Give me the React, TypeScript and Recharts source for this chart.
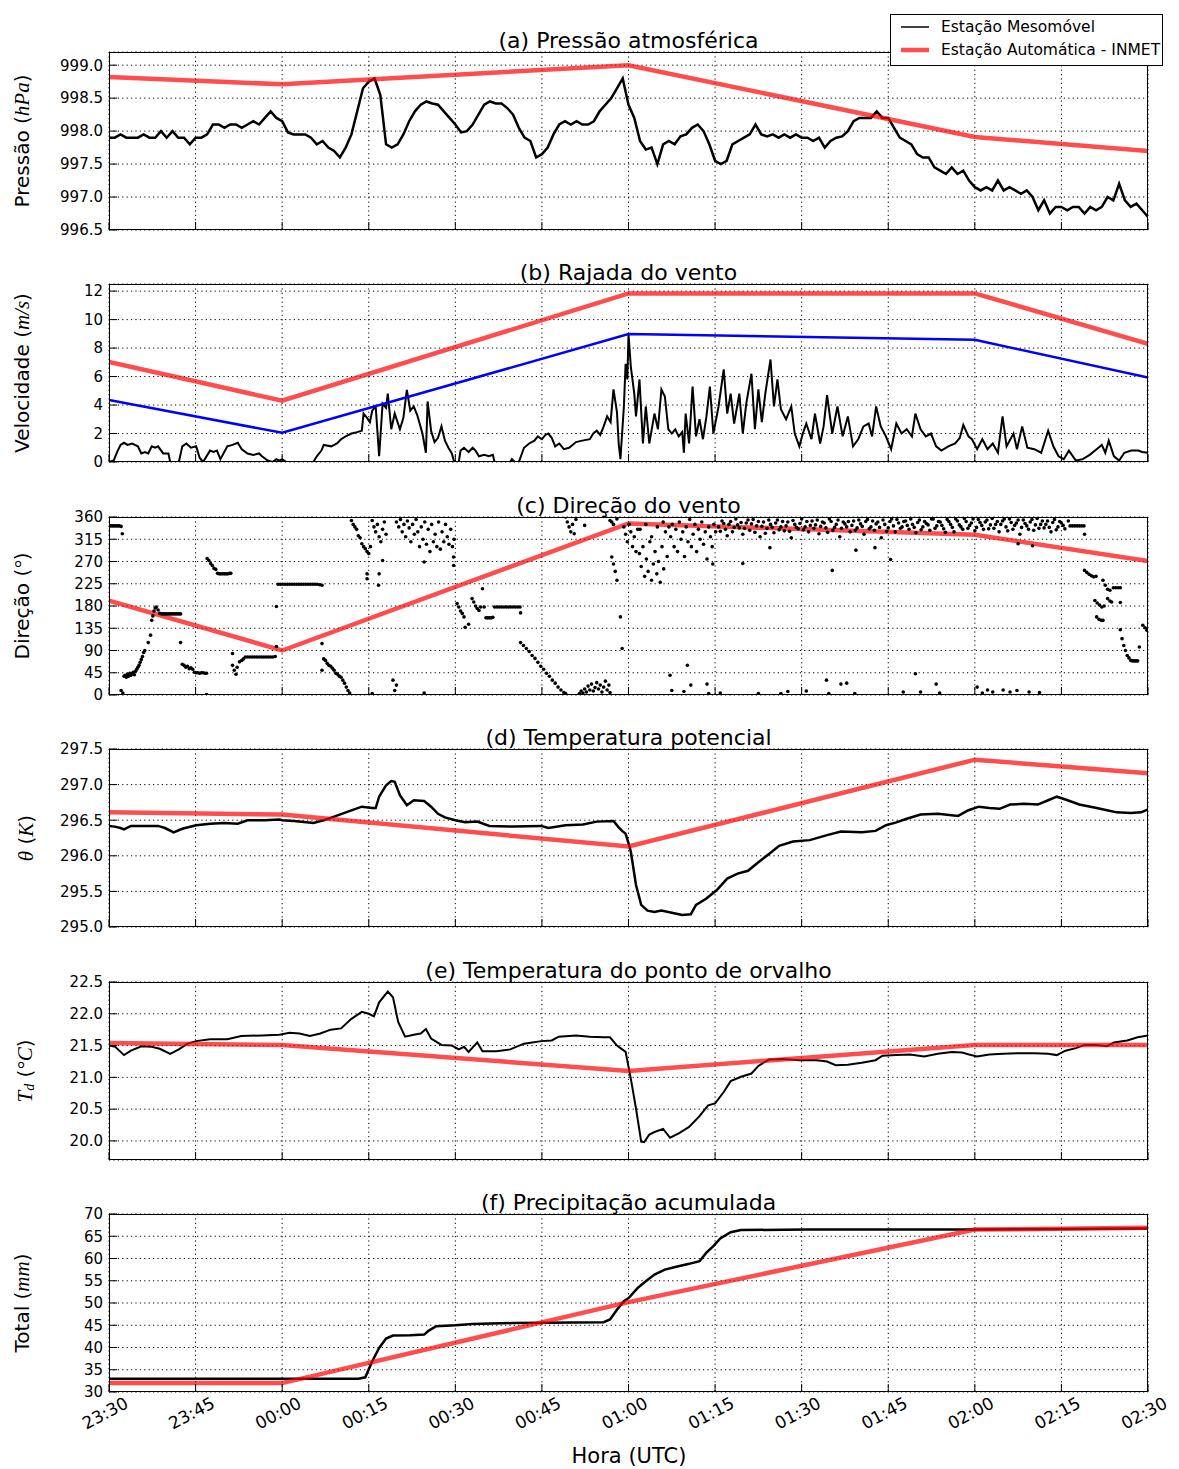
import React from 'react';
import { ComposedChart, Line, Scatter, XAxis, YAxis, CartesianGrid } from 'recharts';

// minutes since 23:30 UTC
const X_TICKS = [0, 15, 30, 45, 60, 75, 90, 105, 120, 135, 150, 165, 180];
const X_LABELS = ['23:30', '23:45', '00:00', '00:15', '00:30', '00:45', '01:00', '01:15', '01:30', '01:45', '02:00', '02:15', '02:30'];

// INMET automatic station (hourly, clipped to the window)
const INMET_T = [0, 30, 90, 150, 180];
const PRESS_INMET = [998.82, 998.71, 999.0, 997.91, 997.7];
const GUST_INMET = [7.03, 4.3, 11.84, 11.84, 8.3];
const SPEED_INMET = [4.35, 2.05, 8.98, 8.58, 5.93];
const DIR_INMET = [191, 90, 347, 324, 271];
const THETA_INMET = [296.61, 296.58, 296.13, 297.35, 297.16];
const TD_INMET = [21.54, 21.51, 21.1, 21.51, 21.51];
const RAIN_INMET = [32.0, 32.0, 50.2, 66.5, 66.9];

// mobile station: pressure, one value per minute (0..180)
const PRESS_MESO = [
  997.9, 997.9, 997.95, 997.9, 997.9, 997.9, 997.95, 997.9, 997.9, 998.0, 997.9, 998.0, 997.9, 997.9, 997.8, 997.9, 997.9, 997.95,
  998.1, 998.1, 998.05, 998.1, 998.1, 998.05, 998.1, 998.15, 998.1, 998.2, 998.3, 998.2, 998.15,
  997.98, 997.95, 997.95, 997.95, 997.9, 997.8, 997.85, 997.75, 997.7, 997.6, 997.75, 997.95, 998.3, 998.65, 998.75, 998.8, 998.55,
  997.8, 997.75, 997.8, 997.95, 998.15, 998.3, 998.4, 998.45, 998.42, 998.4, 998.3, 998.2, 998.1,
  997.98, 998.0, 998.1, 998.25, 998.4, 998.45, 998.42, 998.42, 998.35, 998.25, 998.05, 997.9, 997.85, 997.6, 997.65,
  997.75, 997.95, 998.1, 998.15, 998.1, 998.15, 998.1, 998.1, 998.15, 998.3, 998.4, 998.5, 998.65, 998.8, 998.4,
  998.2, 997.85, 997.72, 997.75, 997.5, 997.8, 997.85, 997.8, 997.92, 997.95, 998.05, 998.1, 998.0, 997.8, 997.55,
  997.5, 997.55, 997.8, 997.85, 997.9, 997.95, 998.1, 997.95, 997.92, 997.95, 997.9, 997.95, 997.9, 997.95, 997.9,
  997.9, 997.85, 997.9, 997.75, 997.85, 997.9, 997.92, 998.0, 998.15, 998.2, 998.2, 998.2, 998.3, 998.2, 998.2,
  998.05, 997.9, 997.85, 997.8, 997.65, 997.6, 997.6, 997.45, 997.4, 997.35, 997.45, 997.35, 997.4, 997.25, 997.15,
  997.1, 997.15, 997.1, 997.25, 997.1, 997.15, 997.1, 997.05, 997.1, 997.0, 996.8, 996.95, 996.75, 996.85, 996.85,
  996.8, 996.85, 996.85, 996.75, 996.85, 996.8, 996.85, 997.0, 996.95, 997.2, 996.95, 996.85, 996.9, 996.8, 996.7,
];

// mobile station: gust [minute, m/s]
const GUST_MESO = [
  [0, 0], [0.8, 0.1], [1.4, 0.7], [2, 1.2], [2.6, 1.35], [3.2, 1.2], [4, 1.3], [5, 1.1], [5.6, 0.6], [6.2, 0.7], [6.8, 0.6],
  [7.4, 1.1], [8, 1.0], [8.5, 1.1], [9.4, 0.6], [10.3, 0.6], [10.6, 0], [12.1, 0], [12.7, 1.1], [13.4, 1.3], [14.2, 1.0],
  [15.1, 1.1], [15.7, 0.3], [16.3, 0], [17.5, 0.8], [18.1, 0.7], [18.7, 0.8], [19.3, 0.2], [20.5, 1.1], [21.4, 1.2],
  [22.3, 1.35], [23, 0.9], [24, 0.6], [25, 0.5], [26, 0.6], [26.5, 0.4], [27.5, 0.1], [28.3, 0], [29, 0.2], [29.5, 0.1],
  [30, 0.2], [30.7, 0], [35.4, 0], [36, 0.4], [36.8, 0.8], [37.2, 1.2], [38.5, 1.1], [39.5, 1.3], [40.2, 1.6], [41, 1.8],
  [42, 2.0], [43, 2.1], [43.8, 2.2], [44.1, 3.4], [44.7, 3.1], [45.2, 2.8], [45.6, 3.6], [46.2, 3.9], [46.8, 0.4],
  [47.4, 4.1], [48, 3.8], [48.3, 4.8], [48.9, 2.3], [49.5, 3.4], [50.4, 2.3], [51, 3.1], [51.6, 5.07], [52.2, 3.6],
  [52.8, 3.9], [53.4, 3.3], [54.3, 2.0], [54.9, 0.65], [55.2, 4.25], [55.8, 2.2], [56.4, 1.4], [57, 1.7], [57.6, 2.5],
  [58.2, 1.5], [58.8, 1.0], [59.4, 0.6], [59.8, 0], [60.6, 0], [60.9, 0.8], [61.5, 1.0], [62.3, 0.7], [63, 1.0],
  [63.5, 0.8], [64.1, 0.4], [65, 0.5], [65.8, 0.4], [66.5, 0.5], [66.8, 0], [69.5, 0], [69.8, 0.2], [70.3, 0], [71, 0],
  [71.9, 1.0], [72.8, 1.3], [73.7, 1.5], [74.3, 1.8], [75, 1.6], [75.6, 1.9], [76.1, 2.0], [76.7, 1.7], [77.3, 1.1],
  [78, 1.3], [78.8, 0.9], [79.7, 1.0], [80.3, 1.2], [80.9, 1.4], [82, 1.5], [83.3, 1.6], [83.9, 2.0], [84.5, 2.2],
  [85.1, 1.9], [85.7, 2.5], [86.3, 3.2], [86.9, 2.8], [87.4, 5.1], [88, 3.5], [88.3, 1.3], [88.6, 0.2], [89.2, 3.9],
  [89.5, 6.9], [89.8, 5.8], [90, 9.0], [90.4, 6.7], [91, 4.8], [91.3, 3.2], [91.9, 5.8], [92.5, 1.3], [93, 3.9],
  [93.6, 1.3], [94.5, 3.4], [95.1, 2.3], [95.7, 5.1], [96.3, 4.6], [96.9, 2.3], [97.5, 2.0], [98.1, 2.3], [98.7, 1.8],
  [99.3, 2.1], [99.6, 0.65], [99.9, 3.4], [100.5, 1.3], [101.1, 5.3], [101.7, 1.8], [102.3, 3.0], [102.9, 1.6],
  [103.5, 3.2], [104.1, 5.3], [104.7, 2.0], [105.6, 3.9], [106.5, 6.5], [107.1, 3.4], [107.7, 4.8], [108.3, 2.7],
  [109.2, 4.8], [109.8, 2.0], [110.4, 4.1], [111.3, 6.2], [111.9, 2.3], [112.5, 5.1], [113.1, 2.8], [113.7, 4.8],
  [114.6, 7.2], [115.2, 3.9], [115.8, 5.8], [116.4, 3.7], [117.3, 3.0], [118.2, 3.9], [118.8, 2.0], [119.6, 1.1],
  [120.2, 2.0], [120.8, 2.7], [121.7, 1.6], [122.3, 3.4], [123.2, 1.3], [123.8, 2.5], [124.4, 4.7], [125.3, 2.0],
  [126.2, 3.9], [127.1, 1.8], [128, 3.2], [128.9, 1.1], [129.8, 1.6], [130.7, 2.5], [131.6, 2.7], [132.2, 1.8],
  [132.9, 3.9], [133.7, 2.5], [134.6, 1.8], [135.5, 0.9], [136.4, 2.7], [137.3, 2.0], [138.2, 2.3], [139.1, 1.8],
  [139.7, 3.4], [140.6, 2.3], [141.5, 1.8], [142.4, 2.0], [143.3, 1.1], [144.2, 0.8], [145.4, 1.1], [146.6, 1.3],
  [147.4, 1.7], [148, 2.6], [148.9, 1.8], [149.5, 1.6], [150.4, 0.9], [151.3, 1.6], [152.2, 0.9], [153.1, 1.3],
  [154, 0.65], [154.8, 3.2], [155.5, 1.1], [156.7, 2.0], [157.3, 0.9], [158.2, 2.5], [159.1, 1.0], [160.3, 0.9],
  [161.5, 0.65], [162.7, 2.2], [163.6, 1.1], [164.5, 0.4], [165.4, 0.2], [166.3, 0.8], [167.5, 0.1], [168.7, 0.2],
  [169.9, 0.5], [171.1, 0.9], [172, 1.2], [172.6, 0.65], [173.2, 1.5], [174.1, 0.4], [175, 0.1], [175.9, 0.65],
  [177.1, 0.8], [178.3, 0.8], [179, 0.7], [180, 0.65],
];

// mobile station: wind direction samples [minute, degrees]
const DIR_MESO = [
  [0, 342], [0.3, 342], [0.6, 342], [0.9, 342], [1.2, 342], [1.5, 342], [1.8, 342], [2.1, 341], [2.3, 326], [2.1, 9], [2.4, 4],
  [2.6, 38], [2.8, 40], [3, 36], [3.2, 42], [3.4, 38], [3.6, 44], [3.8, 40], [4, 43], [4.2, 46], [4.4, 41], [4.6, 48], [4.8, 52], [5, 56],
  [5.2, 60], [5.4, 66], [5.6, 72], [5.8, 78], [6, 86], [6.2, 90], [6.8, 106], [7.2, 121], [7.4, 151], [7.6, 160], [7.8, 170], [8, 176],
  [8.2, 178], [8.5, 172], [8.8, 165], [9.1, 164], [9.4, 164], [9.7, 164], [10, 164], [10.3, 164], [10.6, 164], [10.9, 164], [11.2, 164],
  [11.5, 164], [11.8, 164], [12.1, 164], [12.4, 164], [12.4, 106], [12.7, 62], [13, 60], [13.3, 56], [13.6, 58], [13.9, 53], [14.2, 55],
  [14.5, 52], [14.8, 46], [15.1, 45], [15.4, 45], [15.7, 44], [16, 45], [16.3, 45], [16.6, 44], [16.9, 44], [16.9, 1],
  [17, 276], [17.3, 272], [17.6, 266], [17.9, 262], [18.2, 256], [18.5, 254], [18.8, 246], [19.1, 245], [19.4, 245], [19.7, 245],
  [20, 245], [20.3, 245], [20.6, 245], [20.9, 246], [21.1, 246], [21.4, 84], [21.4, 60], [21.7, 50], [22, 42], [22.2, 56],
  [22.6, 67], [23, 70], [23.3, 73], [23.6, 77], [24, 77], [24.4, 77], [24.8, 77], [25.2, 77], [25.6, 77], [26, 77], [26.4, 77],
  [26.8, 77], [27.2, 77], [27.6, 77], [28, 77], [28.4, 77], [28.8, 78], [29, 179], [29, 98],
  [29.3, 224], [29.7, 224], [30.1, 224], [30.5, 224], [30.9, 224], [31.3, 224], [31.7, 224], [32.1, 224], [32.5, 224], [32.9, 224],
  [33.3, 224], [33.7, 224], [34.1, 224], [34.5, 224], [34.9, 224], [35.3, 224], [35.7, 224], [36.1, 224], [36.5, 223], [36.9, 222],
  [36.9, 104], [36.9, 50], [37.2, 73], [37.5, 70], [37.8, 64], [38.1, 60], [38.4, 58], [38.7, 54], [39, 50], [39.3, 44], [39.6, 42],
  [39.9, 38], [40.2, 36], [40.5, 30], [40.8, 24], [41.1, 16], [41.4, 9], [41.7, 4],
  [42, 353], [42.3, 345], [42.6, 340], [42.9, 335], [43.2, 322], [43.5, 318], [43.8, 306], [44.1, 300], [44.4, 296], [44.7, 290],
  [45, 286], [44.7, 245], [44.7, 235], [45.3, 300], [45.6, 353], [45.9, 340], [46.2, 330], [46.5, 345], [46.8, 320], [47.1, 310],
  [47.4, 335], [47.7, 350], [48, 325], [46.7, 222], [46.8, 245], [47.4, 272], [45.6, 3], [49.2, 30], [49.5, 9], [49.8, 20],
  [49.8, 350], [50.2, 340], [50.5, 355], [50.8, 330], [51.1, 345], [51.4, 320], [51.7, 352], [52, 338], [52.3, 310], [52.6, 345],
  [52.9, 325], [53.2, 355], [53.5, 330], [53.8, 300], [54.1, 340], [54.4, 315], [54.7, 350], [55, 305], [55.3, 335], [55.6, 290],
  [55.9, 345], [56.2, 310], [56.5, 325], [56.8, 300], [57.1, 350], [57.4, 295], [57.7, 330], [58, 310], [58.3, 345], [58.6, 320],
  [58.9, 305], [59.2, 335], [59.5, 300], [59.8, 315], [54.6, 269], [54.6, 4], [59.7, 279], [59.7, 262],
  [60.3, 185], [60.6, 178], [60.9, 170], [61.2, 165], [61.5, 158], [61.7, 137], [62.3, 143], [62.9, 195], [63.2, 188], [63.5, 180],
  [63.8, 175], [64.1, 171], [64.4, 178], [64.7, 215], [65, 178], [65.3, 156], [65.6, 156], [65.9, 156], [66.2, 156], [66.5, 157],
  [66.8, 178], [67.2, 178], [67.6, 178], [68, 178], [68.4, 178], [68.8, 178], [69.2, 178], [69.6, 178], [70, 178], [70.4, 178],
  [70.8, 178], [71.2, 178], [71.3, 166], [71.3, 106], [71.8, 100], [72.3, 94], [72.8, 88], [73.3, 80], [73.8, 74], [74.3, 66],
  [74.8, 58], [75.3, 52], [75.8, 44], [76.3, 38], [76.8, 30], [77.3, 24], [77.8, 16], [78.3, 10], [78.8, 5], [79.1, 3],
  [81.5, 3], [81.8, 8], [82.1, 4], [82.4, 12], [82.7, 6], [83, 18], [83.3, 10], [83.6, 22], [83.9, 8], [84.2, 15], [84.5, 25],
  [84.8, 12], [85.1, 20], [85.4, 6], [85.7, 16], [86, 28], [86.3, 10], [86.6, 20], [86.8, 5],
  [79.1, 360], [79.4, 350], [79.7, 340], [80, 330], [80.3, 345], [80.6, 326], [80.9, 355], [82.4, 343],
  [86.8, 353], [87.1, 350], [87.4, 345], [88, 356], [87.1, 279], [87.4, 265], [87.7, 250], [88, 232], [88.6, 158], [88.9, 94],
  [89.2, 340], [89.5, 325], [89.8, 310], [90.1, 345], [90.4, 330], [90.7, 300], [91, 320], [91.3, 290], [91.6, 335],
  [91.9, 286], [92.2, 260], [92.5, 300], [92.8, 240], [93.1, 275], [93.4, 250], [93.7, 310], [94, 232], [94.3, 265], [94.6, 290],
  [94.9, 245], [95.2, 270], [95.5, 228], [95.8, 300], [96.1, 255], [96.4, 330], [96.7, 280], [97, 340], [92, 335], [93, 345],
  [94, 320], [95, 340], [96, 350],
  [97.3, 320], [97.6, 345], [97.9, 300], [98.2, 335], [98.5, 290], [98.8, 350], [99.1, 315], [99.4, 330], [99.7, 280], [100, 340],
  [100.3, 310], [100.6, 355], [100.9, 300], [101.2, 325], [101.5, 345], [101.8, 290], [102.1, 335], [102.4, 315], [102.7, 350],
  [103, 305], [103.3, 330], [103.6, 275], [103.9, 340], [104.2, 320], [104.5, 300], [104.8, 345], [105.1, 330],
  [97.2, 40], [97.5, 9], [99.6, 7], [100.2, 60], [100.8, 20], [103.6, 22], [103.9, 3],
  [105.6, 340], [106.2, 352], [106.8, 335], [107.4, 345], [108, 330], [108.6, 356], [109.2, 338], [109.8, 325], [110.4, 348],
  [111, 333], [111.6, 355], [112.2, 342], [112.8, 320], [113.4, 350], [114, 337], [114.6, 345], [115.2, 328], [115.8, 354],
  [116.4, 340], [117, 332], [117.6, 350], [118.2, 318], [118.8, 345], [119.4, 336], [120, 356], [120.6, 340], [121.2, 330],
  [121.8, 352], [122.4, 344], [123, 326], [123.6, 350], [124.2, 338], [124.8, 356], [125.4, 333], [126, 345], [126.6, 320],
  [127.2, 350], [127.8, 340], [128.4, 330], [129, 352], [129.6, 338], [130.2, 346], [130.8, 325], [131.4, 355], [132, 340],
  [132.6, 333], [133.2, 350], [133.8, 318], [134.4, 345], [135, 338], [135.6, 356], [136.2, 330], [136.8, 348], [137.4, 340],
  [138, 352], [138.6, 335], [139.2, 345], [139.8, 328], [140.4, 354], [141, 340], [141.6, 347], [142.2, 333], [142.8, 356],
  [143.4, 342], [144, 350], [144.6, 336], [145.2, 355], [145.8, 345], [146.4, 330], [147, 352], [147.6, 340], [148.2, 357],
  [148.8, 337], [149.4, 348], [150, 332], [150.6, 355], [151.2, 343], [151.8, 350], [152.4, 336], [153, 357], [153.6, 345],
  [154.2, 330], [154.8, 352], [155.4, 340], [156, 356], [156.6, 335], [157.2, 348], [157.8, 325], [158.4, 354], [159, 342],
  [159.6, 350], [160.2, 333], [160.8, 357], [161.4, 345], [162, 338], [162.6, 352], [163.2, 330], [163.8, 355], [164.4, 340],
  [165, 348], [165.6, 336], [166.2, 352],
  [105.9, 331], [106.5, 347], [107.1, 322], [107.7, 351], [108.3, 339], [108.9, 344], [109.5, 349], [110.1, 337], [110.7, 354],
  [111.3, 346], [111.9, 329], [112.5, 351], [113.1, 341], [113.7, 327], [114.3, 354], [114.9, 339], [115.5, 348], [116.1, 334],
  [116.7, 351], [117.3, 342], [117.9, 331], [118.5, 353], [119.1, 339], [119.7, 347], [120.3, 334], [120.9, 351], [121.5, 343],
  [122.1, 337], [122.7, 354], [123.3, 341], [123.9, 348], [124.5, 329], [125.1, 351], [125.7, 339], [126.3, 354], [126.9, 337],
  [127.5, 346], [128.1, 351], [128.7, 343], [129.3, 333], [129.9, 354], [130.5, 341], [131.1, 351], [131.7, 336], [132.3, 352],
  [132.9, 346], [133.5, 339], [134.1, 354], [134.7, 331], [135.3, 351], [135.9, 342], [136.5, 355], [137.1, 337], [137.7, 351],
  [138.3, 343], [138.9, 356], [139.5, 339], [140.1, 349], [140.7, 334], [141.3, 351], [141.9, 344], [142.5, 356], [143.1, 337],
  [143.7, 351], [144.3, 343], [144.9, 329], [145.5, 351], [146.1, 339], [146.7, 356], [147.3, 344], [147.9, 335], [148.5, 351],
  [149.1, 343], [149.7, 356], [150.3, 339], [150.9, 349], [151.5, 335], [152.1, 354], [152.7, 344], [153.3, 337], [153.9, 351],
  [154.5, 345], [155.1, 356], [155.7, 332], [156.3, 349], [156.9, 343], [157.5, 354], [158.1, 339], [158.7, 347], [159.3, 335],
  [159.9, 355], [160.5, 344], [161.1, 337], [161.7, 352], [162.3, 345], [162.9, 339], [163.5, 349], [164.1, 334], [164.7, 351],
  [165.3, 343],
  [109.8, 266], [114.5, 298], [125.3, 252], [129.4, 293], [132.7, 298], [135.4, 274], [104.6, 265], [157.5, 306], [160, 302],
  [105.9, 4], [112.5, 3], [116.4, 3], [117.6, 7], [120.8, 8], [124.3, 30], [124.7, 3], [126.8, 22], [127.8, 24], [129.2, 3],
  [137.6, 6], [139.7, 43], [140.6, 6], [143.3, 22], [143.9, 4], [150.4, 16], [151.3, 4], [152.2, 10], [153.1, 6], [154.9, 10],
  [156.1, 6], [157.3, 9], [159.4, 6], [161.2, 5],
  [166.5, 342], [166.9, 342], [167.3, 342], [167.7, 342], [168.1, 342], [168.5, 342], [168.9, 342], [169, 325],
  [169, 252], [169.4, 248], [169.8, 244], [170.2, 241], [170.6, 239], [171, 240], [172.2, 232], [172.6, 222], [173, 214],
  [173.4, 212], [174, 217], [174.4, 217], [174.8, 217], [175.2, 217], [170.8, 191], [171.2, 186], [171.6, 182], [172, 178],
  [172.4, 180], [173, 195], [173.4, 190], [173.7, 188], [175.2, 187], [171.1, 158], [171.5, 153], [171.9, 151], [172.2, 151],
  [175.2, 132], [175.5, 114], [175.8, 100], [176.1, 90], [176.4, 80], [176.7, 75], [177, 70], [177.3, 69], [177.6, 69],
  [177.9, 69], [178.2, 69], [178.5, 97], [179.1, 141], [179.5, 136], [179.8, 131], [180, 134],
];

// mobile station: potential temperature [minute, K]
const THETA_MESO = [
  [0, 296.42], [1, 296.41], [2, 296.39], [2.6, 296.37], [3.8, 296.42], [6, 296.42], [8.5, 296.42], [9.7, 296.39], [11.2, 296.33],
  [12.7, 296.38], [15.1, 296.43], [17.5, 296.45], [20, 296.46], [22.3, 296.45], [24, 296.5], [27, 296.5], [29.5, 296.51],
  [30, 296.5], [32, 296.49], [34.2, 296.47], [35.4, 296.46], [37.2, 296.5], [39, 296.55], [41.4, 296.62], [43.8, 296.69],
  [45.6, 296.67], [46.2, 296.67], [46.8, 296.83], [48, 296.99], [48.9, 297.05], [49.5, 297.04], [50.4, 296.85], [51.6, 296.71],
  [52.8, 296.78], [54.6, 296.77], [55.8, 296.69], [57, 296.59], [58.2, 296.54], [60, 296.5], [61.7, 296.47], [63.8, 296.48],
  [65.9, 296.42], [70.1, 296.41], [74.9, 296.42], [76.1, 296.39], [79.1, 296.43], [82.1, 296.44], [84.5, 296.48], [87.4, 296.49],
  [88.3, 296.4], [88.9, 296.35], [89.5, 296.31], [90.1, 296.15], [90.4, 296.06], [91.3, 295.59], [92.2, 295.31], [93.3, 295.23],
  [94.5, 295.21], [95.7, 295.23], [97.5, 295.2], [99.3, 295.17], [100.8, 295.18], [101.7, 295.31], [103.5, 295.4], [105.3, 295.52],
  [107.1, 295.68], [108.9, 295.75], [110.7, 295.79], [112.5, 295.91], [114.4, 296.03], [116.1, 296.14], [118.5, 296.2],
  [121.4, 296.22], [124.4, 296.29], [126.8, 296.34], [130.4, 296.33], [132.8, 296.35], [134.6, 296.43], [136.4, 296.47],
  [138.2, 296.52], [140.6, 296.58], [143.6, 296.59], [147.1, 296.56], [148.9, 296.64], [150.7, 296.69], [152.5, 296.67],
  [154.3, 296.66], [156.1, 296.72], [158.5, 296.73], [160.9, 296.72], [162.7, 296.78], [164.2, 296.83], [165.7, 296.79],
  [168.1, 296.72], [171.1, 296.67], [172.9, 296.64], [174.6, 296.61], [177, 296.6], [178.8, 296.61], [180, 296.65],
];

// mobile station: dew point [minute, °C]
const TD_MESO = [
  [0, 21.5], [1.1, 21.48], [2.6, 21.35], [3.8, 21.42], [5.6, 21.49], [7.4, 21.48], [8.8, 21.45], [10.6, 21.37], [12.1, 21.44],
  [13.6, 21.53], [15.1, 21.57], [17.5, 21.6], [20.5, 21.6], [22.9, 21.65], [26.5, 21.66], [29.5, 21.67], [31.3, 21.7],
  [33, 21.69], [34.8, 21.65], [36.6, 21.69], [38.4, 21.75], [40.2, 21.77], [42, 21.92], [43.8, 22.03], [45, 22.0], [45.9, 21.96],
  [46.8, 22.18], [48.3, 22.35], [49.2, 22.26], [50.1, 21.87], [51.3, 21.64], [52.8, 21.67], [54, 21.69], [54.9, 21.76],
  [55.8, 21.61], [57.6, 21.51], [59.4, 21.5], [60.6, 21.44], [61.5, 21.48], [62.3, 21.4], [63.8, 21.55], [64.7, 21.41],
  [67.1, 21.41], [69.5, 21.44], [71.9, 21.53], [74.9, 21.57], [76.7, 21.58], [77.9, 21.64], [80.9, 21.66], [83.3, 21.64],
  [85.7, 21.63], [86.8, 21.63], [88, 21.5], [89.5, 21.4], [90.4, 20.98], [91.3, 20.51], [92.2, 19.99], [92.7, 19.98],
  [93.6, 20.1], [94.5, 20.14], [96, 20.19], [97.2, 20.05], [98.7, 20.12], [100.5, 20.22], [102.3, 20.39], [103.8, 20.56],
  [105, 20.59], [106.5, 20.77], [107.7, 20.94], [109.5, 21.01], [111.3, 21.06], [112.5, 21.18], [114.3, 21.28], [116.7, 21.29],
  [119.6, 21.27], [122.6, 21.27], [124.4, 21.25], [125.9, 21.19], [128, 21.2], [130.4, 21.23], [132.8, 21.27], [134, 21.34],
  [136.4, 21.35], [138.8, 21.36], [141.2, 21.33], [143.6, 21.37], [146, 21.4], [147.8, 21.39], [149, 21.36], [150.4, 21.33],
  [152.5, 21.36], [154.9, 21.37], [157.3, 21.38], [160.3, 21.38], [162.7, 21.37], [164.2, 21.35], [165.7, 21.42],
  [167.5, 21.46], [169, 21.51], [171.1, 21.51], [172.9, 21.49], [174.1, 21.55], [176.4, 21.58], [178.2, 21.63], [180, 21.66],
];

// mobile station: accumulated rain [minute, mm]
const RAIN_MESO = [
  [0, 33.0], [43.2, 33.0], [44.4, 33.3], [45.6, 36.9], [46.8, 39.9], [48, 42.0], [49.2, 42.7], [52.2, 42.75], [54.6, 42.9],
  [55.4, 43.8], [56.7, 44.8], [60, 45.0], [62.9, 45.3], [70.1, 45.5], [85.7, 45.7], [86.8, 46.3], [88, 48.5], [89.2, 50.4],
  [90.1, 51.2], [91.6, 53.4], [93, 54.9], [94.5, 56.4], [96.3, 57.5], [98.1, 58.1], [100.5, 58.8], [102.3, 59.4], [103.5, 61.3],
  [104.7, 62.8], [105.9, 64.5], [107.7, 65.9], [109.5, 66.4], [120.8, 66.5], [150.1, 66.5], [180, 66.75],
];

const FONT = '"DejaVu Sans", sans-serif';
const MATH = '"Liberation Serif", serif';
const W = 1179;
const PLOT_L = 109;
const PLOT_R = 1148;
const PLOT_H = 178;
const MT = 10;
const AXW = 60;
const PANEL_TOPS = [52, 284, 517, 749, 982, 1214];
const TITLES = [
  '(a) Pressão atmosférica',
  '(b) Rajada do vento',
  '(c) Direção do vento',
  '(d) Temperatura potencial',
  '(e) Temperatura do ponto de orvalho',
  '(f) Precipitação acumulada',
];

const RED = '#ff0000';

const inmet = (vals: number[]) => INMET_T.map((t, i) => ({ t, v: vals[i] }));
const pairs = (arr: number[][]) => arr.map(([t, v]) => ({ t, v }));

const NoTick = () => <g />;

const XTick = (props: any) => {
  const { x, payload } = props;
  const i = X_TICKS.indexOf(payload.value);
  const cy = MT + PLOT_H + 21;
  return (
    <text x={x - 4} y={cy} textAnchor="middle" dominantBaseline="central" transform={`rotate(-28, ${x - 4}, ${cy})`}
      fontSize={17} fontFamily={FONT} fill="#000">{X_LABELS[i]}</text>
  );
};

const yLabel = (content: React.ReactNode, x = 22) => () => {
  const cy = MT + PLOT_H / 2;
  return (
    <text x={x} y={cy} textAnchor="middle" dominantBaseline="central" transform={`rotate(-90, ${x}, ${cy})`}
      fontSize={20} fontFamily={FONT} fill="#000">{content}</text>
  );
};

const it = (s: string) => <tspan fontFamily={MATH} fontStyle="italic" fontSize={21}>{s}</tspan>;

type PanelProps = {
  idx: number;
  domain: [number, number];
  ticks: number[];
  fmt: (v: number) => string;
  label: () => React.ReactNode;
  last?: boolean;
  children: React.ReactNode;
};

const Panel = ({ idx, domain, ticks, fmt, label, last, children }: PanelProps) => {
  const xh = last ? 70 : 30;
  const tl = { stroke: '#000', strokeWidth: 1 };
  return (
    <div style={{ position: 'absolute', left: 0, top: PANEL_TOPS[idx] - MT }}>
      <ComposedChart width={W} height={MT + PLOT_H + xh}
        margin={{ top: MT, right: W - PLOT_R, bottom: 0, left: PLOT_L - AXW }}>
        <CartesianGrid stroke="#000" strokeWidth={1} strokeDasharray="1.2 3.2" />
        <XAxis type="number" dataKey="t" domain={[0, 180]} ticks={X_TICKS} allowDataOverflow interval={0}
          height={xh} axisLine={false} tickSize={-8} tickMargin={0}
          tickLine={tl} tick={last ? <XTick /> : <NoTick />} />
        <XAxis xAxisId="top" orientation="top" type="number" dataKey="t" domain={[0, 180]} ticks={X_TICKS}
          allowDataOverflow interval={0} height={0} axisLine={false} tickSize={-8} tickLine={tl} tick={<NoTick />} />
        <YAxis type="number" dataKey="v" domain={domain} ticks={ticks} allowDataOverflow interval={0}
          width={AXW} axisLine={false} tickSize={-8} tickMargin={14} tickFormatter={fmt}
          tickLine={tl} tick={{ fontSize: 15, fill: '#000', fontFamily: FONT }} label={label} />
        <YAxis yAxisId="right" orientation="right" type="number" dataKey="v" domain={domain} ticks={ticks}
          allowDataOverflow interval={0} width={0} axisLine={false} tickSize={-8} tickLine={tl} tick={<NoTick />} />
        {children}
      </ComposedChart>
    </div>
  );
};

const f1 = (v: number) => v.toFixed(1);
const f0 = (v: number) => String(Math.round(v));

export default function App() {
  const pressMeso = PRESS_MESO.map((v, i) => ({ t: i, v }));
  const dot = (p: any) => <circle cx={p.cx} cy={p.cy} r={1.8} fill="#000" />;

  return (
    <div style={{ position: 'absolute', left: 0, top: 0, width: W, height: 1469, background: '#fff', fontFamily: FONT, color: '#000' }}>
      <Panel idx={0} domain={[996.5, 999.2]} ticks={[996.5, 997, 997.5, 998, 998.5, 999]} fmt={f1}
        label={yLabel(<>Pressão ({it('hPa')})</>)}>
        <Line data={pressMeso} dataKey="v" stroke="#000" strokeWidth={2.5} dot={false} isAnimationActive={false} />
        <Line data={inmet(PRESS_INMET)} dataKey="v" stroke={RED} strokeOpacity={0.7} strokeWidth={4.5} dot={false} isAnimationActive={false} />
      </Panel>

      <Panel idx={1} domain={[0, 12.5]} ticks={[0, 2, 4, 6, 8, 10, 12]} fmt={f0}
        label={yLabel(<>Velocidade ({it('m/s')})</>)}>
        <Line data={pairs(GUST_MESO)} dataKey="v" stroke="#000" strokeWidth={2} dot={false} isAnimationActive={false} />
        <Line data={inmet(GUST_INMET)} dataKey="v" stroke={RED} strokeOpacity={0.7} strokeWidth={4.5} dot={false} isAnimationActive={false} />
        <Line data={inmet(SPEED_INMET)} dataKey="v" stroke="#0000ff" strokeWidth={2.5} dot={false} isAnimationActive={false} />
      </Panel>

      <Panel idx={2} domain={[0, 360]} ticks={[0, 45, 90, 135, 180, 225, 270, 315, 360]} fmt={f0}
        label={yLabel(<>Direção ({it('°')})</>)}>
        <Scatter data={pairs(DIR_MESO)} dataKey="v" fill="#000" shape={dot} isAnimationActive={false} />
        <Line data={inmet(DIR_INMET)} dataKey="v" stroke={RED} strokeOpacity={0.7} strokeWidth={4.5} dot={false} isAnimationActive={false} />
      </Panel>

      <Panel idx={3} domain={[295, 297.5]} ticks={[295, 295.5, 296, 296.5, 297, 297.5]} fmt={f1}
        label={yLabel(<>{it('θ')} ({it('K')})</>, 26)}>
        <Line data={pairs(THETA_MESO)} dataKey="v" stroke="#000" strokeWidth={2.5} dot={false} isAnimationActive={false} />
        <Line data={inmet(THETA_INMET)} dataKey="v" stroke={RED} strokeOpacity={0.7} strokeWidth={4.5} dot={false} isAnimationActive={false} />
      </Panel>

      <Panel idx={4} domain={[19.7, 22.5]} ticks={[20, 20.5, 21, 21.5, 22, 22.5]} fmt={f1}
        label={yLabel(<>{it('T')}<tspan fontFamily={MATH} fontStyle="italic" fontSize={14} dy={4}>d</tspan><tspan dy={-4}> (</tspan>{it('°C')})</>, 25)}>
        <Line data={pairs(TD_MESO)} dataKey="v" stroke="#000" strokeWidth={2} dot={false} isAnimationActive={false} />
        <Line data={inmet(TD_INMET)} dataKey="v" stroke={RED} strokeOpacity={0.7} strokeWidth={4.5} dot={false} isAnimationActive={false} />
      </Panel>

      <Panel idx={5} domain={[30, 70]} ticks={[30, 35, 40, 45, 50, 55, 60, 65, 70]} fmt={f0} last
        label={yLabel(<>Total ({it('mm')})</>)}>
        <Line data={pairs(RAIN_MESO)} dataKey="v" stroke="#000" strokeWidth={2.5} dot={false} isAnimationActive={false} />
        <Line data={inmet(RAIN_INMET)} dataKey="v" stroke={RED} strokeOpacity={0.7} strokeWidth={4.5} dot={false} isAnimationActive={false} />
      </Panel>

      {PANEL_TOPS.map((top, i) => (
        <React.Fragment key={i}>
          <div style={{ position: 'absolute', left: PLOT_L, top, width: PLOT_R - PLOT_L, height: PLOT_H, border: '1.5px solid #000', boxSizing: 'border-box', pointerEvents: 'none' }} />
          <div style={{ position: 'absolute', left: PLOT_L, width: PLOT_R - PLOT_L, top: top - 11, transform: 'translateY(-50%)', textAlign: 'center', fontSize: 22, lineHeight: 1, whiteSpace: 'nowrap' }}>
            {TITLES[i]}
          </div>
        </React.Fragment>
      ))}

      <div style={{ position: 'absolute', left: 0, width: W, top: 1456, transform: 'translateY(-50%)', textAlign: 'center', fontSize: 21, lineHeight: 1 }}>
        <span style={{ position: 'relative', left: 629 - W / 2 }}>Hora (UTC)</span>
      </div>

      <div style={{ position: 'absolute', left: 890, top: 14, width: 273, height: 52, border: '1.5px solid #000', boxSizing: 'border-box', background: '#fff', fontSize: 15.5 }}>
        <svg width={40} height={52} style={{ position: 'absolute', left: 0, top: -1.5 }}>
          <line x1={10} x2={38} y1={13} y2={13} stroke="#000" strokeWidth={1.5} />
          <line x1={10} x2={38} y1={36} y2={36} stroke={RED} strokeOpacity={0.7} strokeWidth={4.5} />
        </svg>
        <div style={{ position: 'absolute', left: 50, top: 13, transform: 'translateY(-50%)', lineHeight: 1, whiteSpace: 'nowrap' }}>Estação Mesomóvel</div>
        <div style={{ position: 'absolute', left: 50, top: 36, transform: 'translateY(-50%)', lineHeight: 1, whiteSpace: 'nowrap' }}>Estação Automática - INMET</div>
      </div>
    </div>
  );
}
